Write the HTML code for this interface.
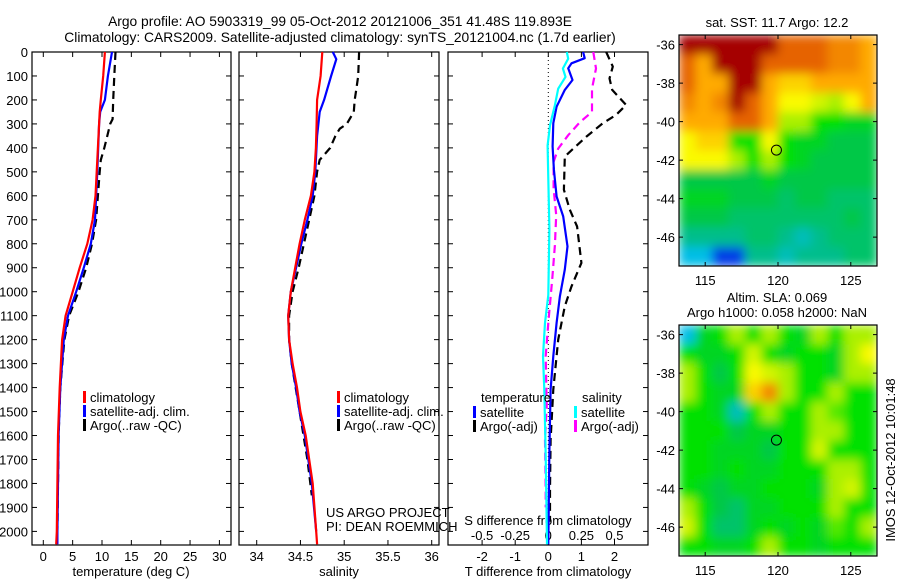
<!DOCTYPE html>
<html><head><meta charset="utf-8"><style>
html,body{margin:0;padding:0;background:#fff;}
svg{display:block;font-family:"Liberation Sans","DejaVu Sans",sans-serif;}
</style></head><body>
<svg id="chart" width="900" height="580" viewBox="0 0 900 580">
<defs>
<filter id="smooth" x="0" y="0" width="1" height="1"><feGaussianBlur stdDeviation="5" edgeMode="duplicate"/></filter>
<clipPath id="clipA"><rect x="679" y="35" width="198" height="231"/></clipPath>
<clipPath id="clipB"><rect x="679" y="325" width="198" height="231"/></clipPath>
</defs>
<text x="340" y="26" font-size="13.8" text-anchor="middle">Argo profile: AO 5903319_99 05-Oct-2012 20121006_351 41.48S 119.893E</text>
<text x="340" y="42" font-size="13.8" text-anchor="middle">Climatology: CARS2009. Satellite-adjusted climatology: synTS_20121004.nc (1.7d earlier)</text>
<g id="g"></g>
</svg>
<script>
// ---- data ----
const tDepth = [0,100,200,250,300,500,600,700,800,900,1000,1100,1200,1400,1600,2000,2054];
const tClim  = [10.5,10.2,9.8,9.6,9.5,9.1,8.9,8.4,7.5,6.2,5.0,3.8,3.2,2.8,2.5,2.3,2.2];
const tSatDepth = [0,100,200,250,300,500,700,800,900,1000,1100,1200,1400,1600,2000,2054];
const tSat   = [11.7,11.0,10.5,9.7,9.5,9.2,8.8,8.1,6.9,5.6,4.2,3.5,2.9,2.6,2.4,2.4];
const tArgoDepth = [0,100,200,280,300,350,400,450,500,600,700,800,900,1000,1100,1200,1400,1600,1800,2000];
const tArgo  = [12.3,12.1,11.9,11.8,11.4,10.9,10.4,9.8,9.6,9.3,9.0,8.3,7.3,6.0,4.4,3.6,2.9,2.6,2.5,2.4];
const sDepth = [0,100,200,300,400,500,600,700,800,900,1000,1100,1200,1300,1400,1500,1600,1700,1800,2000,2054];
const sClim  = [34.75,34.73,34.69,34.685,34.676,34.66,34.62,34.55,34.49,34.44,34.39,34.36,34.37,34.41,34.46,34.50,34.56,34.60,34.64,34.68,34.69];
const sSatDepth = [0,30,100,200,250,350,500,600,700,800,900,1000,1100,1200,1300,1400,1500,1600,1800,2000];
const sSat   = [34.87,34.91,34.85,34.77,34.72,34.69,34.67,34.64,34.58,34.51,34.45,34.39,34.36,34.37,34.40,34.45,34.49,34.55,34.63,34.68];
const sArgoDepth = [0,100,150,200,250,300,320,350,400,450,500,600,700,800,900,1000,1100,1200,1300,1500,1700,1850];
const sArgo  = [35.17,35.16,35.14,35.12,35.11,35.03,34.95,34.90,34.84,34.72,34.69,34.66,34.60,34.54,34.48,34.41,34.37,34.37,34.40,34.49,34.58,34.63];
const dTsatDepth = [0,26,47,68,117,158,228,297,394,491,603,686,811,908,1019,1130,1269,1408,1686,1963,2054];
const dTsat = [1.05,1.1,0.7,0.6,0.73,0.5,0.25,0.15,0.13,0.17,0.25,0.45,0.58,0.5,0.35,0.25,0.15,0.07,0.03,0.01,0.0];
const dTargoDepth = [0,61,110,158,221,262,297,353,436,575,658,728,880,978,1061,1200,1408,1617,1825,1960];
const dTargo = [1.75,1.95,1.85,1.93,2.35,2.05,1.65,1.15,0.5,0.47,0.65,0.87,1.0,0.7,0.5,0.3,0.15,0.07,0.05,0.05];
const dSsatDepth = [0,28,69,104,153,222,306,390,528,736,1014,1130,1269,1408,1686,1963,2054];
const dSsat = [0.14,0.15,0.11,0.13,0.075,0.05,0.013,-0.005,0,0.008,0,-0.025,-0.04,-0.03,-0.02,-0.012,-0.01];
const dSargoDepth = [0,69,153,250,292,347,403,458,569,680,806,944,1130,1269,1477,1617,1825,1900];
const dSargo = [0.34,0.36,0.33,0.33,0.24,0.15,0.075,0.04,0.04,0.06,0.05,0.03,0,-0.02,-0.012,-0.025,-0.02,-0.02];
const depthTicks = [0,100,200,300,400,500,600,700,800,900,1000,1100,1200,1300,1400,1500,1600,1700,1800,1900,2000];
const tTicks = [0,5,10,15,20,25,30];
const sTicks = [34,34.5,35,35.5,36];
const dTTicks = [-2,-1,0,1,2];
const dSTicks = [-0.5,-0.25,0,0.25,0.5];
const latTicks = [-36,-38,-40,-42,-44,-46];
const lonTicks = [115,120,125];
const sstGrid = [
"10 10 10 10 10 10 9 9 9 8.5 8.5 8",
"9 8 10 10 10 9 9 9 9 8.5 8.5 8",
"9 8 8 10 10 8 7.5 7.5 8 8 8 8",
"8.5 8 8.5 10 9 8 7 7 6.5 6 7 8",
"8 8 8 9 9 8 6 6 5 5 4.5 4.5",
"7 7.5 7.5 5 5 7 5 4.5 4.5 4 4 4",
"7 7 7 6 5 6 5 4.5 4 4 4 4",
"4 4 4 4 4 4.5 4 4 4 4 4 4",
"4.5 4.5 4.5 4 4 4 3.5 4 4 3.5 3.5 3.5",
"4 4 4 3.5 3.5 3.5 3.5 3.5 3.5 3.5 4 3.5",
"3 3 3 3 3.5 3.5 3 2.5 3 3.5 3.5 3.5",
"2 2 1 1 3 3 2.5 3 3 3 3.5 3.5"];
const slaGrid = [
"2 4.5 5 6 5 6 5 4.5 6 5 6 6",
"5 4.5 4.5 5 6.5 5 4.5 5 5 4.5 6 7",
"6 5 4 5 7 6.5 6 5 5 4.5 6 6",
"6 5 4.5 4.5 7.5 8.5 6 5 5 6 5 5",
"5 5 4.5 2.5 5 6 5 5 6 5.5 5 5",
"5 5 5 4 4.5 4.5 5 5 6 6 5 5",
"5 5 4.5 4.5 4.5 4 5 5 6.5 5 5 5",
"5 5 4.5 5 4.5 4.5 5 5 5 6 6 5",
"5 4.5 4 4.5 4.5 5 5 5 4.5 6 6.5 5",
"6 5 4 3.5 4.5 4.5 5 5 5 6 5 5",
"6.5 5 3.5 3.5 4.5 5 4.5 5 4.5 5.5 5 6",
"5 5 4.5 4.5 5 6 5 5 4.5 5 5 5"];
const argoLon = 119.893, argoLat = -41.48;

// ---- helpers ----
const NS="http://www.w3.org/2000/svg";
const G=document.getElementById('g');
function el(tag,attrs,parent){const e=document.createElementNS(NS,tag);for(const k in attrs)e.setAttribute(k,attrs[k]);(parent||G).appendChild(e);return e;}
function txt(x,y,s,size,anchor,parent){const t=el('text',{x:x,y:y,'font-size':size,'text-anchor':anchor||'middle',fill:'#000'},parent);t.textContent=s;return t;}
const Y0=52, Y1=545;
const yD=d=>Y0+d*0.2397;
const xT=v=>43.3+v*5.87;
const xS=v=>256.7+(v-34)*87.5;
const xDT=v=>548.3+v*33.1;
const xDS=v=>548.3+v*4*33.1;

function frame(x0,x1,name){
  const r=el('rect',{x:x0,y:Y0,width:x1-x0,height:Y1-Y0,fill:'none',stroke:'#000','stroke-width':1.2});
  
  
  depthTicks.forEach(d=>{
    el('line',{x1:x0,x2:x0+5,y1:yD(d),y2:yD(d),stroke:'#000'});
    el('line',{x1:x1,x2:x1-5,y1:yD(d),y2:yD(d),stroke:'#000'});
  });
}
function xticks(vals,fx,labels,ly){
  vals.forEach((v,i)=>{
    el('line',{x1:fx(v),x2:fx(v),y1:Y0,y2:Y0+5,stroke:'#000'});
    el('line',{x1:fx(v),x2:fx(v),y1:Y1,y2:Y1-5,stroke:'#000'});
    if(labels){const t=txt(fx(v),ly,labels[i],13);
      
      }
  });
}
function line(depths,vals,fx,color,dash,name,w){
  const pts=depths.map((d,i)=>fx(vals[i]).toFixed(1)+','+yD(d).toFixed(1)).join(' ');
  const p=el('polyline',{points:pts,fill:'none',stroke:color,'stroke-width':w||2.2,'stroke-dasharray':dash||'none','stroke-linejoin':'round'});
  
  
}
function legendRow(x,y,color,label,name){
  el('rect',{x:x,y:y-11,width:3,height:12,fill:color});
  const t=txt(x+7,y,label,13,'start');
  
  
}

// ---- panel 1 ----
frame(32,231,'temperature-panel');
depthTicks.forEach(d=>{const t=txt(28,yD(d)+5,String(d),13,'end');
  
  });
xticks(tTicks,xT,tTicks.map(String),561);
let a=txt(131,576,'temperature (deg C)',13);


line(tArgoDepth,tArgo,xT,'#000','8,5','temp-argo-line');
line(tSatDepth,tSat,xT,'#0000ff',null,'temp-satellite-line');
line(tDepth,tClim,xT,'#ff0000',null,'temp-climatology-line');
legendRow(83,402,'#ff0000','climatology','legend-climatology');
legendRow(83,416,'#0000ff','satellite-adj. clim.','legend-satellite');
legendRow(83,430,'#000','Argo(..raw -QC)','legend-argo');

// ---- panel 2 ----
frame(239,439,'salinity-panel');
xticks(sTicks,xS,['34','34.5','35','35.5','36'],561);
a=txt(339,576,'salinity',13);


line(sArgoDepth,sArgo,xS,'#000','8,5','sal-argo-line');
line(sSatDepth,sSat,xS,'#0000ff',null,'sal-satellite-line');
line(sDepth,sClim,xS,'#ff0000',null,'sal-climatology-line');
legendRow(337,402,'#ff0000','climatology','legend-climatology-2');
legendRow(337,416,'#0000ff','satellite-adj. clim.','legend-satellite-2');
legendRow(337,430,'#000','Argo(..raw -QC)','legend-argo-2');
a=txt(326,517,'US ARGO PROJECT',13,'start');


a=txt(326,531,'PI: DEAN ROEMMICH',13,'start');



// ---- panel 3 ----
frame(448,648,'difference-panel');
xticks(dTTicks,xDT,['-2','-1','0','1','2'],561);
dSTicks.forEach(v=>{const t=txt(xDS(v),540,String(v),13);
  
  });
a=txt(548,525,'S difference from climatology',13);


a=txt(548,576,'T difference from climatology',13);


el('line',{x1:xDT(0),x2:xDT(0),y1:Y0,y2:Y1,stroke:'#000','stroke-dasharray':'1,3'});
line(dTargoDepth,dTargo,xDT,'#000','8,5','tdiff-argo-line');
line(dSargoDepth,dSargo,xDS,'#ff00ff','8,5','sdiff-argo-line');
line(dTsatDepth,dTsat,xDT,'#0000ff',null,'tdiff-satellite-line');
line(dSsatDepth,dSsat,xDS,'#00ffff',null,'sdiff-satellite-line');
a=txt(481,402,'temperature',13,'start');


a=txt(582,402,'salinity',13,'start');


legendRow(473,417,'#0000ff','satellite','legend-t-satellite');
legendRow(473,431,'#000','Argo(-adj)','legend-t-argo');
legendRow(574,417,'#00ffff','satellite','legend-s-satellite');
legendRow(574,431,'#ff00ff','Argo(-adj)','legend-s-argo');

// ---- maps ----
const stops=[[0,[0,0,140]],[1,[0,60,230]],[2,[0,190,230]],[3,[0,190,140]],[4,[0,200,70]],[5,[0,225,0]],[6,[170,240,0]],[7,[250,250,0]],[8,[255,170,0]],[9,[230,100,0]],[10,[165,0,0]]];
function cmap(v){for(let i=0;i<stops.length-1;i++){const [a0,c0]=stops[i],[a1,c1]=stops[i+1];
  if(v<=a1){const f=(v-a0)/(a1-a0);return 'rgb('+c0.map((c,k)=>Math.round(c+(c1[k]-c)*f)).join(',')+')';}}
  return 'rgb(165,0,0)';}
function drawMap(x0,x1,y0,y1,grid,name,clip){
  const lonX=l=>x0+(l-113.2)*(x1-x0)/13.6;
  const latY=l=>y0+(-35.5-l)*(y1-y0)/12.0;
  const rows=grid.map(r=>r.split(' ').map(Number));
  const nr=rows.length,nc=rows[0].length,cw=(x1-x0)/nc,ch=(y1-y0)/nr;
  const outer=el('g',{'clip-path':'url(#'+clip+')'});
  
  
  const cg=el('g',{filter:'url(#smooth)'},outer);
  rows.forEach((r,i)=>r.forEach((v,j)=>{
    const c=el('rect',{x:x0+j*cw,y:y0+i*ch,width:cw+0.6,height:ch+0.6,fill:cmap(v)},cg);
    
    
  }));
  const f=el('rect',{x:x0,y:y0,width:x1-x0,height:y1-y0,fill:'none',stroke:'#000','stroke-width':1.2});
  
  
  latTicks.forEach(l=>{
    el('line',{x1:x0,x2:x0+4,y1:latY(l),y2:latY(l),stroke:'#000'});
    el('line',{x1:x1,x2:x1-4,y1:latY(l),y2:latY(l),stroke:'#000'});
    const t=txt(x0-4,latY(l)+5,String(l),13,'end');
    
    
  });
  lonTicks.forEach(l=>{
    el('line',{x1:lonX(l),x2:lonX(l),y1:y0,y2:y0+4,stroke:'#000'});
    el('line',{x1:lonX(l),x2:lonX(l),y1:y1,y2:y1-4,stroke:'#000'});
    const t=txt(lonX(l),y1+19,String(l),13);
    
    
  });
  const c=el('circle',{cx:lonX(argoLon),cy:latY(argoLat),r:5,fill:'none',stroke:'#000','stroke-width':1});
  
  
}
drawMap(679,877,35,266,sstGrid,'sst-map','clipA');
drawMap(679,877,325,556,slaGrid,'sla-map','clipB');
a=txt(777,27,'sat. SST: 11.7 Argo: 12.2',13);


a=txt(777,302,'Altim. SLA: 0.069',13);


a=txt(777,317,'Argo h1000: 0.058 h2000: NaN',13);


a=txt(0,0,'IMOS 12-Oct-2012 10:01:48',13);
a.setAttribute('transform','translate(895,460) rotate(-90)');


</script>
</body></html>
